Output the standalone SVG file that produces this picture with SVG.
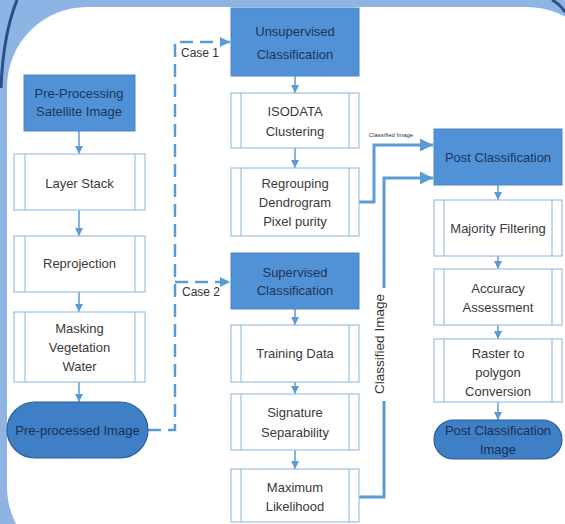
<svg xmlns="http://www.w3.org/2000/svg" width="565" height="524" viewBox="0 0 565 524">
<style>
text{font-family:"Liberation Sans","DejaVu Sans",sans-serif;font-size:13px;text-anchor:middle;dominant-baseline:central}
.fill{fill:#5192d6;stroke:#4a86c6;stroke-width:1}
.fill-t{fill:#1e3559}
.proc{fill:#ffffff;stroke:#9cc0e4;stroke-width:1.2}
.inner{stroke:#9cc0e4;stroke-width:1.2;fill:none}
.proc-t{fill:#3a3a3a}
.term{fill:#3f7fc6;stroke:#2f5f98;stroke-width:1.2}
.term-t{fill:#1a2f55}
.small{stroke:#5b9bd5;stroke-width:1.5;fill:none}
.dash{stroke:#5b9bd5;stroke-width:2.5;fill:none;stroke-dasharray:13 7}
.thick{stroke:#5b9bd5;stroke-width:3;fill:none}
.case{fill:#333;font-size:12px}
</style>
<defs>
<marker id="sa" viewBox="0 0 8 8" refX="8" refY="4" markerWidth="8" markerHeight="8" markerUnits="userSpaceOnUse" orient="auto">
<path d="M0,0 L8,4 L0,8 Z" fill="#5b9bd5"/>
</marker>
<marker id="da" viewBox="0 0 10 10" refX="10" refY="5" markerWidth="10" markerHeight="10" markerUnits="userSpaceOnUse" orient="auto">
<path d="M0,0 L10,5 L0,10 Z" fill="#5b9bd5"/>
</marker>
<marker id="ta" viewBox="0 0 12 12" refX="12" refY="6" markerWidth="13" markerHeight="13" markerUnits="userSpaceOnUse" orient="auto">
<path d="M0,0 L12,6 L0,12 Z" fill="#5b9bd5"/>
</marker>
</defs>
<g id="background">
<rect x="0" y="0" width="565" height="524" fill="#8db4e3"/>
<rect x="7" y="7" width="600" height="560" rx="80" ry="80" fill="#ffffff"/>
<path d="M17,0 Q3,35 1,88" stroke="#2d4f86" stroke-width="3" fill="none"/>
<path d="M552,0 Q560,4 565,12" stroke="#2d4f86" stroke-width="3" fill="none"/>
</g>
<g id="connectors">
<path class="small" d="M79,131 V154" marker-end="url(#sa)"/>
<path class="small" d="M79,210 V236" marker-end="url(#sa)"/>
<path class="small" d="M79,292 V312" marker-end="url(#sa)"/>
<path class="small" d="M79,382 V402" marker-end="url(#sa)"/>
<path class="small" d="M295,76 V93" marker-end="url(#sa)"/>
<path class="small" d="M295,148 V168" marker-end="url(#sa)"/>
<path class="small" d="M295,309 V325" marker-end="url(#sa)"/>
<path class="small" d="M295,382 V394" marker-end="url(#sa)"/>
<path class="small" d="M295,450 V469" marker-end="url(#sa)"/>
<path class="small" d="M498,185 V200" marker-end="url(#sa)"/>
<path class="small" d="M498,256 V269" marker-end="url(#sa)"/>
<path class="small" d="M498,325 V339" marker-end="url(#sa)"/>
<path class="small" d="M498,402 V420" marker-end="url(#sa)"/>
<path class="dash" d="M148,430 H175 V42 H230" marker-end="url(#da)"/>
<path class="dash" d="M175,282 H230" marker-end="url(#da)"/>
<path class="thick" d="M359,202 H374 V145 H433" marker-end="url(#ta)"/>
<path class="thick" d="M359,497 H384 V401"/>
<path class="thick" d="M384,288 V178 H433" marker-end="url(#ta)"/>
<text class="case" x="200" y="53">Case 1</text>
<text class="case" x="201" y="292">Case 2</text>
<text x="391" y="135" style="font-size:6px;fill:#333">Classified Image</text>
<text x="0" y="0" transform="translate(379,344) rotate(-90)" style="font-size:13.5px;fill:#333">Classified Image</text>
</g>
<g id="n-preproc-sat">
<rect class="fill" x="24" y="75" width="111" height="56"/>
<text class="fill-t" x="79" y="93">Pre-Processing</text>
<text class="fill-t" x="79" y="111">Satellite Image</text>
</g>
<g id="n-layer-stack">
<rect class="proc" x="14" y="154" width="131" height="56"/>
<path class="inner" d="M25,154 V210 M135,154 V210"/>
<text class="proc-t" x="79.5" y="183">Layer Stack</text>
</g>
<g id="n-reprojection">
<rect class="proc" x="14" y="236" width="131" height="56"/>
<path class="inner" d="M25,236 V292 M135,236 V292"/>
<text class="proc-t" x="79.5" y="263">Reprojection</text>
</g>
<g id="n-masking">
<rect class="proc" x="14" y="312" width="131" height="70"/>
<path class="inner" d="M25,312 V382 M135,312 V382"/>
<text class="proc-t" x="79.5" y="328">Masking</text>
<text class="proc-t" x="79.5" y="347">Vegetation</text>
<text class="proc-t" x="79.5" y="366">Water</text>
</g>
<g id="n-preprocessed">
<rect class="term" x="7" y="402" width="141" height="56" rx="28" ry="28"/>
<text class="term-t" x="77.5" y="430">Pre-processed Image</text>
</g>
<g id="n-unsupervised">
<rect class="fill" x="231" y="8" width="128" height="68"/>
<text class="fill-t" x="295" y="31">Unsupervised</text>
<text class="fill-t" x="295" y="54">Classification</text>
</g>
<g id="n-isodata">
<rect class="proc" x="231" y="93" width="128" height="55"/>
<path class="inner" d="M241,93 V148 M349,93 V148"/>
<text class="proc-t" x="295" y="111">ISODATA</text>
<text class="proc-t" x="295" y="131">Clustering</text>
</g>
<g id="n-regrouping">
<rect class="proc" x="231" y="168" width="128" height="68"/>
<path class="inner" d="M241,168 V236 M349,168 V236"/>
<text class="proc-t" x="295" y="183">Regrouping</text>
<text class="proc-t" x="295" y="202">Dendrogram</text>
<text class="proc-t" x="295" y="221">Pixel purity</text>
</g>
<g id="n-supervised">
<rect class="fill" x="231" y="253" width="128" height="56"/>
<text class="fill-t" x="295" y="272">Supervised</text>
<text class="fill-t" x="295" y="290">Classification</text>
</g>
<g id="n-training">
<rect class="proc" x="231" y="325" width="128" height="57"/>
<path class="inner" d="M241,325 V382 M349,325 V382"/>
<text class="proc-t" x="295" y="353">Training Data</text>
</g>
<g id="n-signature">
<rect class="proc" x="231" y="394" width="128" height="56"/>
<path class="inner" d="M241,394 V450 M349,394 V450"/>
<text class="proc-t" x="295" y="412">Signature</text>
<text class="proc-t" x="295" y="432">Separability</text>
</g>
<g id="n-maxlik">
<rect class="proc" x="231" y="469" width="128" height="53"/>
<path class="inner" d="M241,469 V522 M349,469 V522"/>
<text class="proc-t" x="295" y="487">Maximum</text>
<text class="proc-t" x="295" y="506">Likelihood</text>
</g>
<g id="n-postclass">
<rect class="fill" x="434" y="129" width="128" height="56"/>
<text class="fill-t" x="498" y="157">Post Classification</text>
</g>
<g id="n-majority">
<rect class="proc" x="434" y="200" width="128" height="56"/>
<path class="inner" d="M444,200 V256 M552,200 V256"/>
<text class="proc-t" x="498" y="228">Majority Filtering</text>
</g>
<g id="n-accuracy">
<rect class="proc" x="434" y="269" width="128" height="56"/>
<path class="inner" d="M444,269 V325 M552,269 V325"/>
<text class="proc-t" x="498" y="288">Accuracy</text>
<text class="proc-t" x="498" y="307">Assessment</text>
</g>
<g id="n-raster">
<rect class="proc" x="434" y="339" width="128" height="63"/>
<path class="inner" d="M444,339 V402 M552,339 V402"/>
<text class="proc-t" x="498" y="353">Raster to</text>
<text class="proc-t" x="498" y="372">polygon</text>
<text class="proc-t" x="498" y="391">Conversion</text>
</g>
<g id="n-postimage">
<rect class="term" x="434" y="420" width="128" height="39" rx="19.5" ry="19.5"/>
<text class="term-t" x="498" y="430">Post Classification</text>
<text class="term-t" x="498" y="449">Image</text>
</g>
</svg>
